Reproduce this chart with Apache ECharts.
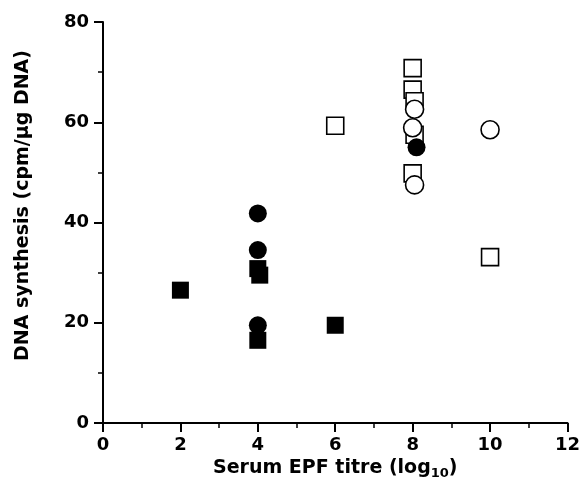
<!DOCTYPE html>
<html>
<head>
<meta charset="utf-8">
<script src="https://cdn.jsdelivr.net/npm/echarts@6/dist/echarts.min.js"></script>
<style>
    html, body { margin: 0; padding: 0; background: #fff; }
    #chart { width: 583px; height: 496px; }
</style>
</head>
<body>
<div id="chart"></div>
<script>
// values: [titre (log10), DNA synthesis]
const openSquares = [[6, 59.3], [8, 70.8], [8, 66.5], [8.05, 64.2], [8.05, 57.5], [8, 49.8], [10, 33.1]];
const openCircles = [[8.05, 62.6], [8, 58.9], [8.05, 47.5], [10, 58.5]];
const filledSquares = [[2, 26.5], [4, 30.8], [4.05, 29.5], [4, 16.5], [6, 19.5]];
const filledCircles = [[4, 41.8], [4, 34.5], [4, 19.5], [8.1, 55]];

const font = '"DejaVu Sans", Verdana, sans-serif';

const axisCommon = {
    axisLine: { lineStyle: { color: '#000', width: 2 } },
    axisTick: { inside: false, length: 9, lineStyle: { color: '#000', width: 2 } },
    minorTick: { show: true, splitNumber: 2, length: 5, lineStyle: { color: '#000', width: 1.5 } },
    splitLine: { show: false },
    axisLabel: { color: '#000', fontSize: 18, fontWeight: 'bold', fontFamily: font, margin: 13 },
    nameTextStyle: { color: '#000', fontSize: 19, fontWeight: 'bold', fontFamily: font }
};

const openStyle = { color: '#fff', borderColor: '#000', borderWidth: 1.6, opacity: 1 };
const filledStyle = { color: '#000', borderColor: '#000', borderWidth: 0, opacity: 1 };

const options = {
    animation: false,
    backgroundColor: '#fff',
    grid: { left: 103, right: 14, top: 22, bottom: 73 },
    xAxis: Object.assign({}, axisCommon, {
        type: 'value',
        min: 0,
        max: 12,
        interval: 2,
        name: 'Serum EPF titre (log{sub|10})',
        nameLocation: 'middle',
        nameGap: 34,
        nameTextStyle: Object.assign({}, axisCommon.nameTextStyle, {
            rich: { sub: { fontSize: 13, fontWeight: 'bold', fontFamily: font, color: '#000', verticalAlign: 'bottom', padding: [10, 0, 0, 0] } }
        })
    }),
    yAxis: Object.assign({}, axisCommon, {
        type: 'value',
        min: 0,
        max: 80,
        interval: 20,
        name: 'DNA synthesis (cpm/μg DNA)',
        nameLocation: 'middle',
        nameGap: 70,
        axisLabel: Object.assign({}, axisCommon.axisLabel, { margin: 14 }),
        nameTextStyle: Object.assign({}, axisCommon.nameTextStyle, { padding: [0, 0, 0, 34] })
    }),
    series: [
        { type: 'scatter', symbol: 'rect', symbolSize: 17, itemStyle: openStyle, data: openSquares },
        { type: 'scatter', symbol: 'circle', symbolSize: 18, itemStyle: openStyle, data: openCircles },
        { type: 'scatter', symbol: 'rect', symbolSize: 17, itemStyle: filledStyle, data: filledSquares },
        { type: 'scatter', symbol: 'circle', symbolSize: 18, itemStyle: filledStyle, data: filledCircles }
    ]
};

const myChart = echarts.init(document.getElementById('chart'), null, { renderer: 'canvas' });
myChart.setOption(options);
</script>
</body>
</html>
